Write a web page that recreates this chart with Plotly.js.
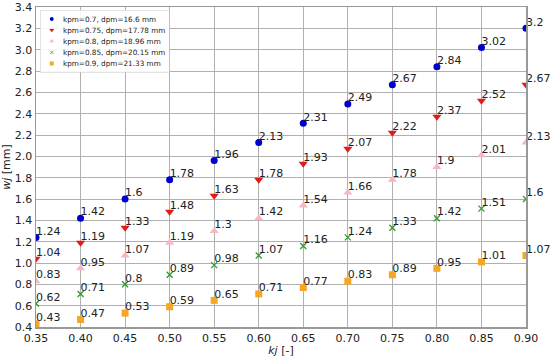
<!DOCTYPE html>
<html><head><meta charset="utf-8">
<script src="https://cdn.plot.ly/plotly-3.0.1.min.js"></script>
<style>html,body{margin:0;padding:0;background:#fff}#chart{width:550px;height:357px}</style>
</head><body><div id="chart"></div>
<script>
var kj = [0.35,0.40,0.45,0.50,0.55,0.60,0.65,0.70,0.75,0.80,0.85,0.90];
var seriesNames = ["kpm=0.7, dpm=16.6 mm","kpm=0.75, dpm=17.78 mm","kpm=0.8, dpm=18.96 mm","kpm=0.85, dpm=20.15 mm","kpm=0.9, dpm=21.33 mm"];
var w07  = [1.24,1.42,1.6,1.78,1.96,2.13,2.31,2.49,2.67,2.84,3.02,3.2];
var w075 = [1.04,1.19,1.33,1.48,1.63,1.78,1.93,2.07,2.22,2.37,2.52,2.67];
var w08  = [0.83,0.95,1.07,1.19,1.3,1.42,1.54,1.66,1.78,1.9,2.01,2.13];
var w085 = [0.62,0.71,0.8,0.89,0.98,1.07,1.16,1.24,1.33,1.42,1.51,1.6];
var w09  = [0.43,0.47,0.53,0.59,0.65,0.71,0.77,0.83,0.89,0.95,1.01,1.07];
var xTicks = [0.35,0.40,0.45,0.50,0.55,0.60,0.65,0.70,0.75,0.80,0.85,0.90];
var xTickText = ["0.35","0.40","0.45","0.50","0.55","0.60","0.65","0.70","0.75","0.80","0.85","0.90"];

var allY = [w07,w075,w08,w085,w09];
var colors = ["#0000cc","#e31a1c","#f7b6c8","#2e9b2e","#f5a623"];
var symbols = ["circle","triangle-down","triangle-up","x-thin-open","square"];
var sizes = [7,8,8,6,7];
var traces = [];
allY.forEach(function(ys,i){
  traces.push({x:kj,y:ys,type:"scatter",mode:"markers",name:seriesNames[i],
    marker:{color:colors[i],symbol:symbols[i],size:sizes[i],line:{color:colors[i],width:symbols[i]==="x-thin-open"?1.3:0}},
    cliponaxis:true,hoverinfo:"skip"});
});
allY.forEach(function(ys,i){
  traces.push({x:kj,y:ys,type:"scatter",mode:"text",showlegend:false,
    text:ys.map(function(v){return String(v);}),textposition:"top right",
    textfont:{family:"DejaVu Sans, sans-serif",size:11,color:"#222"},
    cliponaxis:false,hoverinfo:"skip"});
});
var layout = {
  width:550,height:357,
  margin:{l:36,r:24,t:7,b:30},
  paper_bgcolor:"#fff",plot_bgcolor:"#fff",
  showlegend:true,
  legend:{x:0.008,y:0.99,xanchor:"left",yanchor:"top",bgcolor:"rgba(255,255,255,0.9)",
    bordercolor:"#ccc",borderwidth:1,font:{family:"DejaVu Sans, sans-serif",size:13,color:"#222"},
    tracegroupgap:0},
  xaxis:{range:[0.35,0.90],tickvals:xTicks,ticktext:xTickText,showgrid:true,gridcolor:"#b0b0b0",gridwidth:1,
    showline:true,mirror:true,linecolor:"#999",linewidth:1.5,ticks:"",zeroline:false,
    tickfont:{family:"DejaVu Sans, sans-serif",size:11,color:"#222"},
    title:{text:"<i>kj</i> [-]",font:{family:"DejaVu Sans, sans-serif",size:11,color:"#222"},standoff:4}},
  yaxis:{range:[0.4,3.4],dtick:0.2,tick0:0.4,tickformat:".1f",showgrid:true,gridcolor:"#b0b0b0",gridwidth:1,
    showline:true,mirror:true,linecolor:"#999",linewidth:1.5,ticks:"",zeroline:false,
    tickfont:{family:"DejaVu Sans, sans-serif",size:11,color:"#222"},
    title:{text:"<i>wj</i> [mm]",font:{family:"DejaVu Sans, sans-serif",size:11,color:"#222"},standoff:4}}
};
Plotly.newPlot("chart",traces,layout,{displayModeBar:false,staticPlot:true}).then(function(){
  var lg = document.querySelector("#chart .legend");
  if (lg) {
    lg.setAttribute("transform","translate(40,10) scale(0.56)");
  }
});
</script></body></html>
